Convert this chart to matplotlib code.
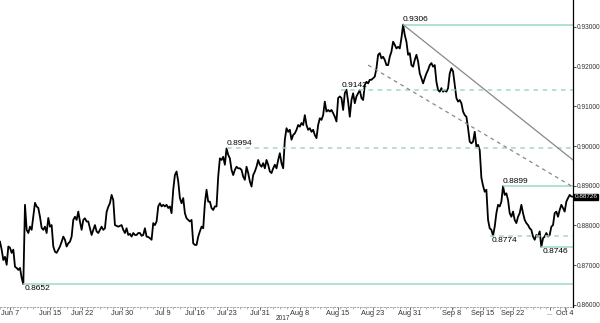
import matplotlib
matplotlib.use("Agg")
import matplotlib.pyplot as plt
import numpy as np

plt.rcParams['font.family'] = ['Liberation Sans', 'DejaVu Sans']

# price samples (about 4 per trading day)
prices = [
    0.8759, 0.8739, 0.8713, 0.8721, 0.8701, 0.8747, 0.8744, 0.8731, 0.8739, 0.8696,
    0.8693, 0.8688, 0.8693, 0.8668, 0.8652, 0.8852, 0.8789, 0.8781, 0.8797, 0.8789,
    0.8822, 0.8857, 0.8848, 0.8844, 0.8822, 0.8794, 0.8789, 0.8797, 0.8781, 0.8819,
    0.8797, 0.8801, 0.8747, 0.8734, 0.8731, 0.8739, 0.8747, 0.8759, 0.8772, 0.8764,
    0.8747, 0.8755, 0.8759, 0.8772, 0.8814, 0.8822, 0.8814, 0.8835, 0.8810, 0.8789,
    0.8814, 0.8818, 0.8810, 0.8810, 0.8793, 0.8776, 0.8789, 0.8801, 0.8785, 0.8781,
    0.8789, 0.8797, 0.8789, 0.8793, 0.8834, 0.8847, 0.8856, 0.8877, 0.8864,
    # mid June - late July
    0.8801, 0.8799, 0.8797, 0.8799, 0.8801, 0.8789, 0.8781, 0.8793, 0.8776, 0.8779,
    0.8772, 0.8781, 0.8776, 0.8776, 0.8781, 0.8781, 0.8774, 0.8776, 0.8793, 0.8772,
    0.8771, 0.8768, 0.8764, 0.8806, 0.8801, 0.8810, 0.8848, 0.8856, 0.8848, 0.8852,
    0.8848, 0.8852, 0.8844, 0.8848, 0.8831, 0.8890, 0.8927, 0.8936, 0.8911, 0.8869,
    0.8856, 0.8869, 0.8831, 0.8818, 0.8814, 0.8810, 0.8814, 0.8755, 0.8751, 0.8751,
    0.8772, 0.8785, 0.8797, 0.8793, 0.8856, 0.8890, 0.8860, 0.8860, 0.8844, 0.8839,
    0.8848, 0.8848, 0.8923, 0.8969, 0.8965, 0.8973, 0.8953, 0.8994, 0.8978, 0.8969,
    0.8940, 0.8927, 0.8940, 0.8948, 0.8944,
    # late July - mid August
    0.8944, 0.8940, 0.8923, 0.8915, 0.8948, 0.8932, 0.8911, 0.8898, 0.8927, 0.8936,
    0.8948, 0.8965, 0.8953, 0.8948, 0.8957, 0.8944, 0.8965, 0.8953, 0.8936, 0.8932,
    0.8944, 0.8953, 0.8944, 0.8965, 0.8982, 0.8957, 0.8944, 0.9016, 0.9045, 0.9036,
    0.9041, 0.9016, 0.9028, 0.9032, 0.9041, 0.9053, 0.9049, 0.9058, 0.9053, 0.9078,
    0.9053, 0.9041, 0.9045, 0.9036, 0.9041, 0.9028, 0.9020, 0.9053, 0.9070, 0.9066,
    0.9078, 0.9112, 0.9087, 0.9091, 0.9087, 0.9091, 0.9083, 0.9074, 0.9062, 0.9121,
    0.9125, 0.9121, 0.9091, 0.9133, 0.9142, 0.9112, 0.9074, 0.9116, 0.9133, 0.9108,
    0.9125, 0.9133,
    # mid August - mid September
    0.9141, 0.9121, 0.9116, 0.9154, 0.9162, 0.9158, 0.9167, 0.9167, 0.9171, 0.9175,
    0.9196, 0.9230, 0.9234, 0.9221, 0.9225, 0.9217, 0.9204, 0.9204, 0.9225, 0.9238,
    0.9263, 0.9255, 0.9246, 0.9250, 0.9246, 0.9272, 0.9306, 0.9280, 0.9263, 0.9230,
    0.9234, 0.9204, 0.9200, 0.9217, 0.9230, 0.9213, 0.9183, 0.9171, 0.9158, 0.9171,
    0.9183, 0.9192, 0.9204, 0.9209, 0.9200, 0.9204, 0.9162, 0.9141, 0.9137, 0.9146,
    0.9137, 0.9141, 0.9137, 0.9146, 0.9183, 0.9196, 0.9188, 0.9154, 0.9121, 0.9112,
    0.9116, 0.9108, 0.9087, 0.9078, 0.9074, 0.9045, 0.9011, 0.9007, 0.9011, 0.9036,
    0.8999, 0.9003,
    # mid September - early October
    0.8990, 0.8920, 0.8900, 0.8885, 0.8890, 0.8814, 0.8793, 0.8789, 0.8774, 0.8797,
    0.8831, 0.8852, 0.8848, 0.8860, 0.8899, 0.8877, 0.8881, 0.8864, 0.8831, 0.8822,
    0.8835, 0.8814, 0.8806, 0.8822, 0.8831, 0.8852, 0.8831, 0.8814, 0.8806, 0.8801,
    0.8793, 0.8789, 0.8772, 0.8764, 0.8776, 0.8772, 0.8785, 0.8746, 0.8768, 0.8772,
    0.8781, 0.8772, 0.8776, 0.8797, 0.8801, 0.8831, 0.8835, 0.8822, 0.8839, 0.8852,
    0.8844, 0.8835, 0.8860, 0.8869, 0.8877, 0.8873, 0.88726,
]

# x tick labels and their bar positions
tick_labels = ['Jun 7', 'Jun 15', 'Jun 22', 'Jun 30', 'Jul 9', 'Jul 16', 'Jul 23', 'Jul 31',
               'Aug 8', 'Aug 15', 'Aug 23', 'Aug 31', 'Sep 8', 'Sep 15', 'Sep 22', '...', 'Oct 4']
tick_bars = [6, 30, 49.2, 73.2, 97.8, 117, 136.2, 156, 180, 202.8, 223.8, 246,
             271.2, 289.8, 307.8, 330, 339]

# horizontal support / resistance levels
levels = [0.9306, 0.9142, 0.8994, 0.8899, 0.8774, 0.8746, 0.8652]
level_start = [242, 205, 136, 302, 294, 325, 14]
level_dashed = [False, True, True, False, True, False, False]
level_above = [True, True, True, True, False, False, False]

# trend lines (bar, price) end points
trend_solid = [(242, 0.9306), (344, 0.8965)]
trend_dashed = [(221, 0.9204), (344, 0.8897)]

last_price = prices[-1]

fig = plt.figure(figsize=(6, 3.23), dpi=100)
ax = fig.add_axes([0, 0.05, 0.955, 0.95])

x = np.arange(len(prices))
ax.plot(x, prices, color='black', lw=1.3)

level_col = '#9fd8c8'
for lev, s, d, above in zip(levels, level_start, level_dashed, level_above):
    ax.hlines(lev, s, 344, colors=level_col, lw=1.1, linestyles=(0, (3, 3)) if d else 'solid')
    if above:
        ax.text(s, lev + 0.0003, f'{lev:.4f}', fontsize=6, va='bottom', ha='left')
    else:
        ax.text(s + 1, lev - 0.0003, f'{lev:.4f}', fontsize=6, va='top', ha='left')

(x0, y0), (x1, y1) = trend_solid
ax.plot([x0, x1], [y0, y1], color='#888888', lw=0.9)
(x0, y0), (x1, y1) = trend_dashed
ax.plot([x0, x1], [y0, y1], color='#888888', lw=0.9, ls=(0, (3, 3)))

ax.set_xlim(0, 344)
ax.set_ylim(0.8595, 0.9368)

# right price axis
yt = np.arange(0.86, 0.9301, 0.01)
ax.yaxis.tick_right()
ax.set_yticks(yt)
ax.set_yticklabels([f'{v:.5f}' for v in yt])
ax.tick_params(axis='y', labelsize=4.8, length=2.5, width=0.6, pad=0.5, colors='#333333')
for s in ['left', 'top']:
    ax.spines[s].set_visible(False)
ax.spines['right'].set_linewidth(0.9)
ax.spines['bottom'].set_color('#999999')
ax.spines['bottom'].set_linestyle((0, (2, 2)))
ax.spines['bottom'].set_linewidth(0.6)

ax.set_xticks(tick_bars)
ax.set_xticklabels(tick_labels)
ax.set_xticks(np.arange(0, 344, 4), minor=True)
ax.tick_params(axis='x', labelsize=5.3, length=2, width=0.5, pad=0.5, colors='#333333')
ax.tick_params(axis='x', which='minor', length=1.5, width=0.5, colors='#999999')
ax.text(170, -0.038, '2017', transform=ax.get_xaxis_transform(), fontsize=4.8,
        ha='center', va='center', color='#333333')

# last price tag
ax.annotate(f'{last_price:.5f}', xy=(1.0, last_price), xycoords=('axes fraction', 'data'),
            xytext=(1.2, 0), textcoords='offset points', fontsize=4.6, color='white',
            va='center', ha='left',
            bbox=dict(boxstyle='square,pad=0.1', fc='black', ec='black'))

fig.savefig('out.png', dpi=100)
